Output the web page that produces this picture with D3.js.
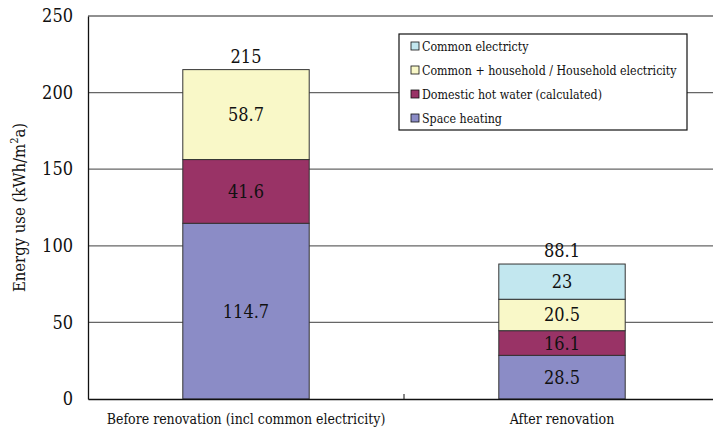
<!DOCTYPE html>
<html lang="en">
<head>
<meta charset="UTF-8">
<title>Energy use before and after renovation</title>
<script src="https://cdn.jsdelivr.net/npm/d3@7"></script>
<style>
    body{ margin:0; background:#fff; }
    svg text{ font-family:'DejaVu Serif Condensed','DejaVu Serif',serif !important; font-stretch:condensed; }
</style>
</head>
<body>
<svg></svg>
<script>
    // chart data
    const categories = ["Before renovation (incl common electricity)", "After renovation"];
    const seriesNames = ["Space heating", "Domestic hot water (calculated)", "Common + household / Household electricity", "Common electricty"];
    const spaceHeating = [114.7, 28.5];
    const hotWater = [41.6, 16.1];
    const householdEl = [58.7, 20.5];
    const commonEl = [0, 23];
    const totals = [215, 88.1];
    const yTicks = [0, 50, 100, 150, 200, 250];

    const colors = ["#8b8cc6", "#993366", "#f9f8c8", "#c2e7ef"];

    const width = 713, height = 433;
    const margin = {top: 16, right: -7, bottom: 34, left: 88};
    const svg = d3.select("svg").attr("width", width).attr("height", height);

    const x = d3.scaleBand().domain(categories)
        .range([margin.left, width - margin.right]).paddingInner(0).paddingOuter(0);
    const y = d3.scaleLinear().domain([0, 250]).range([height - margin.bottom, margin.top]);

    // gridlines
    svg.append("g").selectAll("line").data(yTicks.slice(1))
        .join("line")
        .attr("x1", margin.left).attr("x2", width - margin.right)
        .attr("y1", d => y(d)).attr("y2", d => y(d))
        .attr("stroke", d => d === 250 ? "#222" : "#666").attr("stroke-width", 1.2);

    // stacked table built from the arrays
    const rows = categories.map((c, i) => ({
        cat: c, s0: spaceHeating[i], s1: hotWater[i], s2: householdEl[i], s3: commonEl[i]
    }));
    const stack = d3.stack().keys(["s0", "s1", "s2", "s3"])(rows);
    const barW = x.bandwidth() * 0.4;

    const layers = svg.append("g").selectAll("g").data(stack).join("g")
        .attr("fill", (d, i) => colors[i]);
    layers.selectAll("rect").data(d => d.filter(p => p[1] - p[0] > 0))
        .join("rect")
        .attr("x", d => x(d.data.cat) + (x.bandwidth() - barW) / 2)
        .attr("width", barW)
        .attr("y", d => y(d[1]))
        .attr("height", d => y(d[0]) - y(d[1]))
        .attr("stroke", "#333").attr("stroke-width", 1);

    // value labels inside segments
    layers.selectAll("text").data(d => d.filter(p => p[1] - p[0] > 0))
        .join("text")
        .attr("x", d => x(d.data.cat) + x.bandwidth() / 2)
        .attr("y", d => (y(d[0]) + y(d[1])) / 2 + 6.5)
        .attr("text-anchor", "middle")
        .attr("fill", "#111").attr("font-size", 18)
        .text(d => +(d[1] - d[0]).toFixed(1));

    // totals above bars
    svg.append("g").selectAll("text").data(categories)
        .join("text")
        .attr("x", d => x(d) + x.bandwidth() / 2)
        .attr("y", (d, i) => y(totals[i]) - 7)
        .attr("text-anchor", "middle").attr("font-size", 18).attr("fill", "#111")
        .text((d, i) => totals[i]);

    // axes
    const yAxis = svg.append("g").attr("transform", `translate(${margin.left},0)`)
        .call(d3.axisLeft(y).tickValues(yTicks).tickSize(0).tickPadding(15));
    yAxis.select(".domain").attr("stroke", "#111").attr("stroke-width", 1.3);
    yAxis.selectAll("text").attr("font-size", 18).attr("fill", "#111");

    const xAxis = svg.append("g").attr("transform", `translate(0,${y(0)})`)
        .call(d3.axisBottom(x).tickSize(0).tickPadding(15));
    xAxis.select(".domain").attr("stroke", "#111").attr("stroke-width", 1.3);
    xAxis.selectAll("text").attr("font-size", 14).attr("fill", "#111");
    // small category divider tick
    xAxis.append("line")
        .attr("x1", x(categories[1])).attr("x2", x(categories[1]))
        .attr("y1", 0).attr("y2", -5).attr("stroke", "#111");

    // y axis title
    const yt = svg.append("text")
        .attr("transform", `translate(25,${(y(0) + y(250)) / 2}) rotate(-90)`)
        .attr("text-anchor", "middle").attr("font-size", 16.5).attr("fill", "#111");
    yt.append("tspan").text("Energy use (kWh/m");
    yt.append("tspan").attr("dy", -7).attr("font-size", 11).text("2");
    yt.append("tspan").attr("dy", 7).text("a)");

    // legend
    const lg = svg.append("g").attr("transform", "translate(399,34)");
    lg.append("rect").attr("width", 288).attr("height", 96)
        .attr("fill", "#fff").attr("stroke", "#111").attr("stroke-width", 1.2);
    const order = [3, 2, 1, 0];
    const items = lg.selectAll("g.item").data(order).join("g")
        .attr("transform", (d, i) => `translate(12,${12 + i * 24})`);
    items.append("rect").attr("width", 8).attr("height", 8).attr("y", -4)
        .attr("fill", d => colors[d]).attr("stroke", "#111").attr("stroke-width", 0.8);
    items.append("text").attr("x", 11).attr("y", 4.5)
        .attr("font-size", 12.3).attr("fill", "#111")
        .text(d => seriesNames[d]);
</script>
</body>
</html>
